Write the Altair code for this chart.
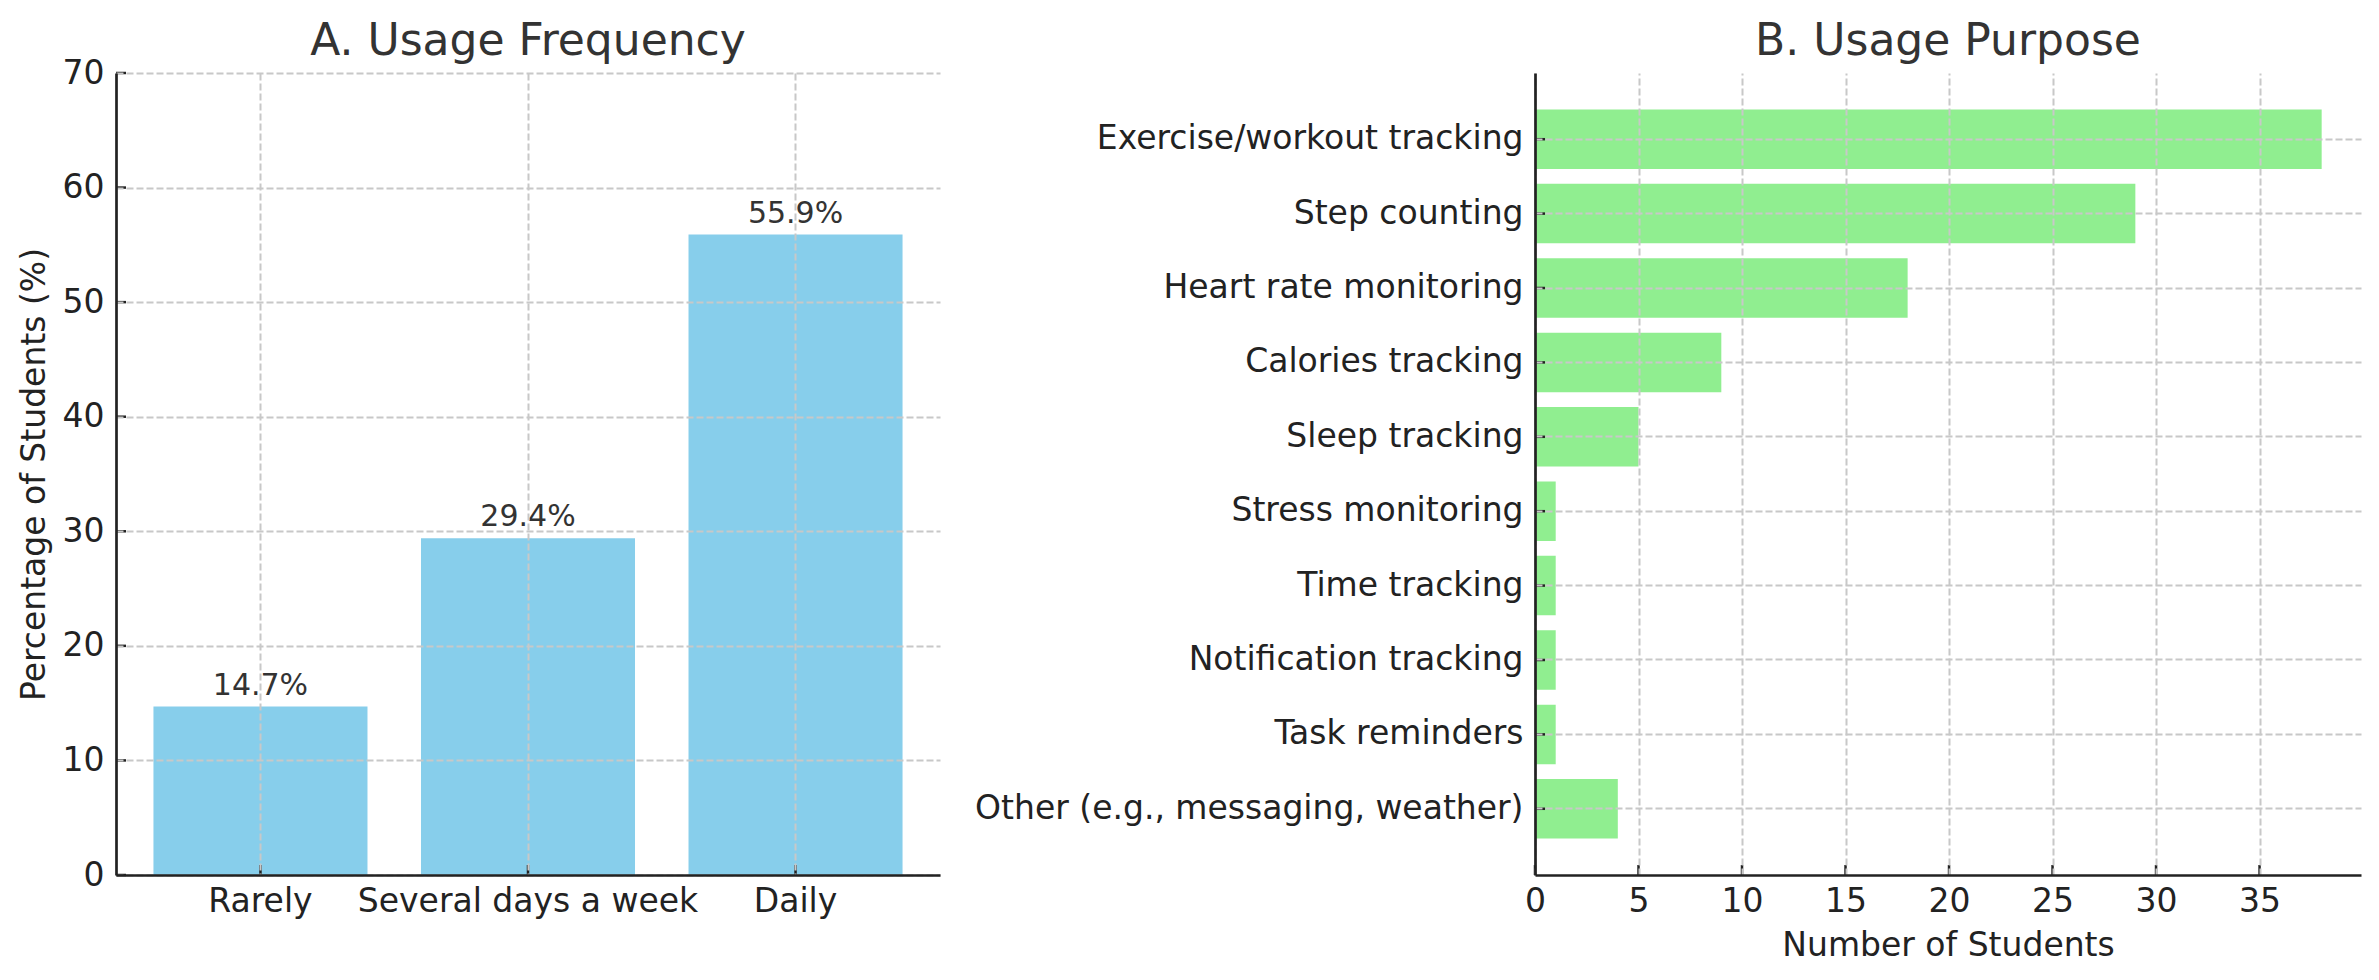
import altair as alt
import pandas as pd

# ---- data ----
freq_cats = ["Rarely", "Several days a week", "Daily"]
freq_pct = [14.7, 29.4, 55.9]
freq_labels = ["14.7%", "29.4%", "55.9%"]

purpose_cats = [
    "Exercise/workout tracking",
    "Step counting",
    "Heart rate monitoring",
    "Calories tracking",
    "Sleep tracking",
    "Stress monitoring",
    "Time tracking",
    "Notification tracking",
    "Task reminders",
    "Other (e.g., messaging, weather)",
]
purpose_counts = [38, 29, 18, 9, 5, 1, 1, 1, 1, 4]

pct_ticks = [0, 10, 20, 30, 40, 50, 60, 70]
count_ticks = [0, 5, 10, 15, 20, 25, 30, 35]

# ---- style ----
FONT = "DejaVu Sans"
W1, W2, H = 824, 826, 802
TICK_LEN = 10
INK = "#222222"
GRID = dict(grid=True, gridDash=[7, 3], gridColor="#c8c8c8", gridWidth=2,
            domainColor=INK, domainWidth=2.7, ticks=False, labelFlush=False,
            labelFontSize=33, labelColor=INK, labelFont=FONT, labelLimit=1000,
            titleFontSize=33, titleColor=INK, titleFont=FONT,
            titleFontWeight="normal", zindex=1)

freq_df = pd.DataFrame({"cat": freq_cats, "pct": freq_pct, "label": freq_labels})
purpose_df = pd.DataFrame({"cat": purpose_cats, "n": purpose_counts})
pct_tick_df = pd.DataFrame({"pct": pct_ticks})
count_tick_df = pd.DataFrame({"n": count_ticks})

# ---- panel A ----
xA_scale = alt.Scale(paddingInner=0.2, paddingOuter=0.14)
yA_scale = alt.Scale(domain=[0, 70], nice=False, zero=True)
xA_axis = alt.Axis(title=None, labelAngle=0, bandPosition=0.5, labelPadding=10, **GRID)
yA_axis = alt.Axis(title="Percentage of Students (%)", values=pct_ticks,
                   labelPadding=12, titlePadding=11, **GRID)

xA = alt.X("cat:N", sort=freq_cats, scale=xA_scale, axis=xA_axis)
yA = alt.Y("pct:Q", scale=yA_scale, axis=yA_axis)

barsA = alt.Chart(freq_df).mark_bar(color="#87CEEB").encode(x=xA, y=yA)
textA = alt.Chart(freq_df).mark_text(
    baseline="alphabetic", dy=-12, fontSize=30, color="#333333", font=FONT
).encode(x=xA, y=yA, text="label:N")
xticksA = alt.Chart(freq_df).mark_rule(color=INK, strokeWidth=2.5).encode(
    x=xA, y=alt.value(H), y2=alt.value(H - TICK_LEN))
yticksA = alt.Chart(pct_tick_df).mark_rule(color=INK, strokeWidth=2.5).encode(
    y=yA, x=alt.value(0), x2=alt.value(TICK_LEN))

panelA = alt.layer(barsA, textA, xticksA, yticksA).properties(
    width=W1, height=H,
    title=alt.TitleParams("A. Usage Frequency", offset=9, dy=16))

# ---- panel B ----
yB_scale = alt.Scale(paddingInner=0.2, paddingOuter=0.49)
xB_scale = alt.Scale(domain=[0, 39.9], nice=False, zero=True)
yB_axis = alt.Axis(title=None, bandPosition=0.5, labelPadding=12, **GRID)
xB_axis = alt.Axis(title="Number of Students", values=count_ticks,
                   labelPadding=10, titlePadding=11, **GRID)

yB = alt.Y("cat:N", sort=purpose_cats, scale=yB_scale, axis=yB_axis)
xB = alt.X("n:Q", scale=xB_scale, axis=xB_axis)

barsB = alt.Chart(purpose_df).mark_bar(color="#90EE90").encode(x=xB, y=yB)
yticksB = alt.Chart(purpose_df).mark_rule(color=INK, strokeWidth=2.5).encode(
    y=yB, x=alt.value(0), x2=alt.value(TICK_LEN))
xticksB = alt.Chart(count_tick_df).mark_rule(color=INK, strokeWidth=2.5).encode(
    x=xB, y=alt.value(H), y2=alt.value(H - TICK_LEN))

panelB = alt.layer(barsB, yticksB, xticksB).properties(
    width=W2, height=H,
    title=alt.TitleParams("B. Usage Purpose", offset=9))

chart = alt.hconcat(panelA, panelB, spacing=34).properties(
    padding={"left": 10, "top": 12, "right": 5, "bottom": 20},
    background="white",
).configure_view(stroke=None).configure_title(
    font=FONT, fontSize=44, fontWeight="normal", color="#333333",
    anchor="middle", frame="group", baseline="alphabetic"
)

chart.save("out.html", embed_options={"renderer": "svg", "actions": False})
